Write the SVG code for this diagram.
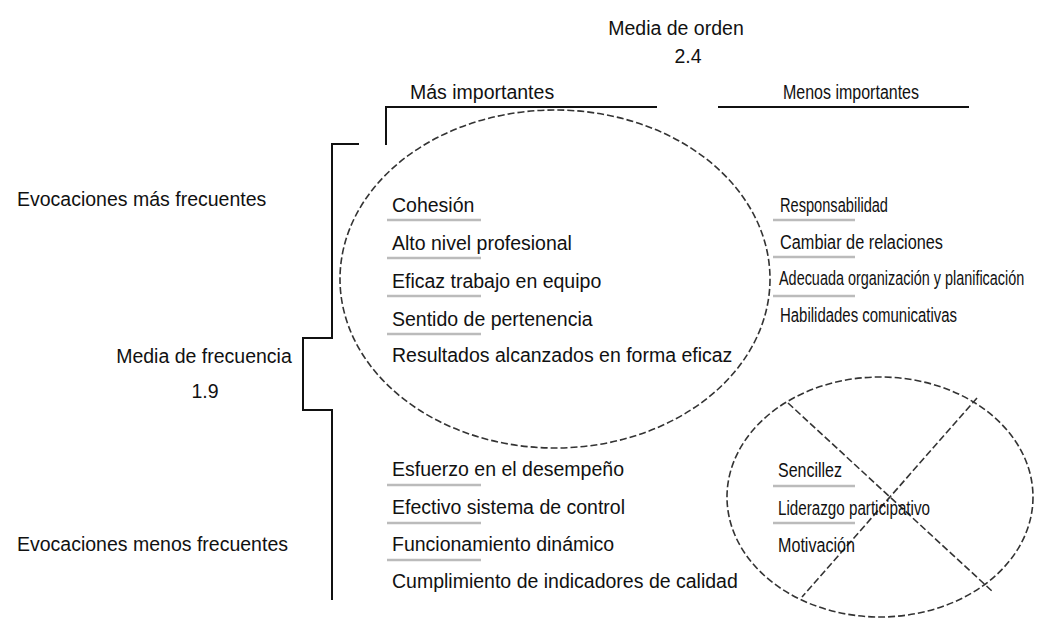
<svg xmlns="http://www.w3.org/2000/svg" width="1039" height="629" viewBox="0 0 1039 629">
<style>
text{font-family:"Liberation Sans",Arial,sans-serif;font-size:19.5px;fill:#111}
.ln{stroke:#111;stroke-width:2;fill:none}
.ul{stroke:#bbb;stroke-width:2.5}
.dash{fill:none;stroke:#333;stroke-width:1.6;stroke-dasharray:7 3}
</style>
<rect width="1039" height="629" fill="#fff"/>
<g id="connectors">
<path class="ln" d="M359,144 H332 V338 H303 V410 H332 V600"/>
<path class="ln" d="M386,145 V107 H657"/>
<path class="ln" d="M718,107 H969"/>
</g>
<g id="media-orden">
<text x="676" y="35" text-anchor="middle">Media de orden</text>
<text x="688" y="63" text-anchor="middle">2.4</text>
</g>
<g id="mas-importantes"><text x="410" y="99">Más importantes</text></g>
<g id="menos-importantes"><text x="783" y="99" textLength="136" lengthAdjust="spacingAndGlyphs">Menos importantes</text></g>
<g id="evoc-mas"><text x="17" y="206">Evocaciones más frecuentes</text></g>
<g id="media-frecuencia">
<text x="204" y="363" text-anchor="middle">Media de frecuencia</text>
<text x="205" y="398" text-anchor="middle">1.9</text>
</g>
<g id="evoc-menos"><text x="17" y="551">Evocaciones menos frecuentes</text></g>
<g id="nucleo">
<ellipse class="dash" cx="555" cy="279" rx="215" ry="169"/>
<text x="392" y="212">Cohesión</text>
<line class="ul" x1="387" y1="220" x2="481" y2="220"/>
<text x="392" y="250">Alto nivel profesional</text>
<line class="ul" x1="387" y1="258" x2="481" y2="258"/>
<text x="392" y="288">Eficaz trabajo en equipo</text>
<line class="ul" x1="387" y1="296" x2="481" y2="296"/>
<text x="392" y="326">Sentido de pertenencia</text>
<line class="ul" x1="387" y1="334" x2="481" y2="334"/>
<text x="392" y="362">Resultados alcanzados en forma eficaz</text>
</g>
<g id="periferia-1">
<text x="780" y="212" textLength="108" lengthAdjust="spacingAndGlyphs">Responsabilidad</text>
<line class="ul" x1="773" y1="220" x2="855" y2="220"/>
<text x="780" y="249" textLength="163" lengthAdjust="spacingAndGlyphs">Cambiar de relaciones</text>
<line class="ul" x1="773" y1="257" x2="855" y2="257"/>
<text transform="translate(779,285) scale(0.74,1)">Adecuada organización y planificación</text>
<line class="ul" x1="773" y1="296" x2="855" y2="296"/>
<text x="780" y="322" textLength="177" lengthAdjust="spacingAndGlyphs">Habilidades comunicativas</text>
</g>
<g id="contraste">
<text x="392" y="476">Esfuerzo en el desempeño</text>
<line class="ul" x1="387" y1="485" x2="481" y2="485"/>
<text x="392" y="514">Efectivo sistema de control</text>
<line class="ul" x1="387" y1="523" x2="481" y2="523"/>
<text x="392" y="551">Funcionamiento dinámico</text>
<line class="ul" x1="387" y1="560" x2="481" y2="560"/>
<text x="392" y="588">Cumplimiento de indicadores de calidad</text>
</g>
<g id="periferia-2">
<ellipse class="dash" cx="880" cy="497" rx="153" ry="120"/>
<line class="dash" x1="788" y1="403" x2="993" y2="592"/>
<line class="dash" x1="977" y1="398" x2="802" y2="597"/>
<text x="778" y="477" textLength="64" lengthAdjust="spacingAndGlyphs">Sencillez</text>
<line class="ul" x1="773" y1="486" x2="855" y2="486"/>
<text x="778" y="515" textLength="152" lengthAdjust="spacingAndGlyphs">Liderazgo participativo</text>
<line class="ul" x1="773" y1="523" x2="855" y2="523"/>
<text x="778" y="552" textLength="77" lengthAdjust="spacingAndGlyphs">Motivación</text>
</g>
</svg>
